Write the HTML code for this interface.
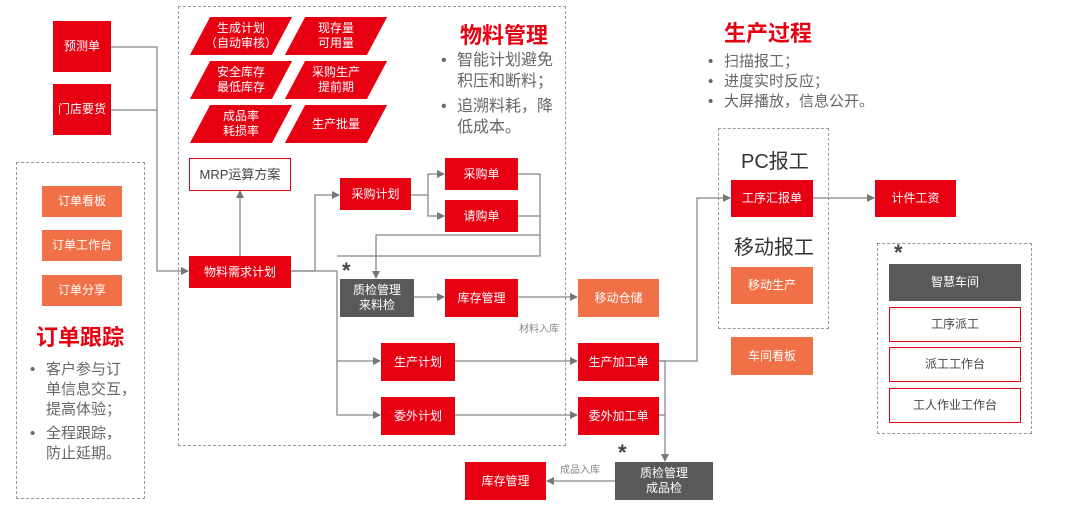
<!DOCTYPE html>
<html><head><meta charset="utf-8"><style>
body{margin:0;width:1080px;height:516px;background:#fff;position:relative;overflow:hidden;font-family:"Liberation Sans","Noto Sans CJK SC",sans-serif}
.b{position:absolute;display:flex;align-items:center;justify-content:center;text-align:center;font-size:12px;color:#fff;line-height:15px;box-sizing:border-box}
.r{background:#e60012}.o{background:#f07048}.g{background:#595959}.w{background:#fff;border:1.5px solid #e60012;color:#444}
.d{position:absolute;border:1px dashed #999;box-sizing:border-box}
.t{position:absolute;white-space:nowrap}
.p{position:absolute;transform:skewX(-28deg);background:#e60012}
.pt{position:absolute;display:flex;align-items:center;justify-content:center;text-align:center;color:#fff;font-size:12px;line-height:15px}
ul{margin:0;padding:0;list-style:none}
.bl{position:absolute;color:#666;font-size:15px;line-height:20px}
.bl li{position:relative;padding-left:16px}
.bl li:before{content:"•";position:absolute;left:0}
</style></head><body>
<div class="d" style="left:16px;top:162px;width:129px;height:337px"></div>
<div class="d" style="left:178px;top:6px;width:388px;height:440px"></div>
<div class="d" style="left:718px;top:128px;width:111px;height:201px"></div>
<div class="d" style="left:877px;top:243px;width:155px;height:191px"></div>

<svg width="1080" height="516" style="position:absolute;left:0;top:0">
<defs><marker id="a" markerWidth="8" markerHeight="8" refX="7" refY="4" orient="auto" markerUnits="userSpaceOnUse"><path d="M0,0 L8,4 L0,8z" fill="#777"/></marker></defs>
<g stroke="#888" stroke-width="1.3" fill="none">
<path d="M110,47 H157 V271 H188" marker-end="url(#a)"/>
<path d="M110,110 H157"/>
<path d="M240,256 V191" marker-end="url(#a)"/>
<path d="M290,271 H315 V195 H339" marker-end="url(#a)"/>
<path d="M290,271 H337 V415 H380" marker-end="url(#a)"/>
<path d="M337,361 H380" marker-end="url(#a)"/>
<path d="M410,195 H428 V174 H444" marker-end="url(#a)"/>
<path d="M428,195 V216 H444" marker-end="url(#a)"/>
<path d="M517,174 H540 V256 H337"/>
<path d="M517,216 H540"/>
<path d="M540,235 H376 V278" marker-end="url(#a)"/>
<path d="M413,297 H444" marker-end="url(#a)"/>
<path d="M517,297 H577" marker-end="url(#a)"/>
<path d="M455,361 H577" marker-end="url(#a)"/>
<path d="M455,415 H577" marker-end="url(#a)"/>
<path d="M659,361 H697 V198 H730" marker-end="url(#a)"/>
<path d="M659,361 H665 V461" marker-end="url(#a)"/>
<path d="M659,415 H665"/>
<path d="M615,481 H547" marker-end="url(#a)"/>
<path d="M812,198 H874" marker-end="url(#a)"/>
</g></svg>

<div class="b r" style="left:53px;top:21px;width:58px;height:51px">预测单</div>
<div class="b r" style="left:53px;top:84px;width:58px;height:51px">门店要货</div>
<div class="b o" style="left:42px;top:186px;width:80px;height:31px">订单看板</div>
<div class="b o" style="left:42px;top:230px;width:80px;height:31px">订单工作台</div>
<div class="b o" style="left:42px;top:275px;width:80px;height:31px">订单分享</div>
<div class="t" style="left:36px;top:320px;font-size:22px;font-weight:bold;color:#e60012">订单跟踪</div>
<ul class="bl" style="left:30px;top:360px;width:112px;white-space:nowrap"><li>客户参与订<br>单信息交互，<br>提高体验；</li><li style="margin-top:4px">全程跟踪，<br>防止延期。</li></ul>

<div class="p" style="left:200px;top:17px;width:82px;height:38px"></div><div class="pt" style="left:190px;top:17px;width:102px;height:38px">生成计划<br>（自动审核）</div>
<div class="p" style="left:295px;top:17px;width:82px;height:38px"></div><div class="pt" style="left:285px;top:17px;width:102px;height:38px">现存量<br>可用量</div>
<div class="p" style="left:200px;top:61px;width:82px;height:38px"></div><div class="pt" style="left:190px;top:61px;width:102px;height:38px">安全库存<br>最低库存</div>
<div class="p" style="left:295px;top:61px;width:82px;height:38px"></div><div class="pt" style="left:285px;top:61px;width:102px;height:38px">采购生产<br>提前期</div>
<div class="p" style="left:200px;top:105px;width:82px;height:38px"></div><div class="pt" style="left:190px;top:105px;width:102px;height:38px">成品率<br>耗损率</div>
<div class="p" style="left:295px;top:105px;width:82px;height:38px"></div><div class="pt" style="left:285px;top:105px;width:102px;height:38px">生产批量</div>
<div class="t" style="left:460px;top:18px;font-size:22px;font-weight:bold;color:#e60012">物料管理</div>
<ul class="bl" style="left:441px;top:50px;width:125px;font-size:16px;line-height:21px"><li>智能计划避免积压和断料；</li><li style="margin-top:4px">追溯料耗，降低成本。</li></ul>

<div class="b w" style="left:189px;top:158px;width:102px;height:33px;font-size:13px">MRP运算方案</div>
<div class="b r" style="left:189px;top:256px;width:102px;height:32px">物料需求计划</div>
<div class="b r" style="left:340px;top:178px;width:71px;height:32px">采购计划</div>
<div class="b r" style="left:445px;top:158px;width:73px;height:32px">采购单</div>
<div class="b r" style="left:445px;top:200px;width:73px;height:32px">请购单</div>
<div class="t" style="left:342px;top:258px;font-size:22px;font-weight:bold;color:#444">*</div>
<div class="b g" style="left:340px;top:279px;width:74px;height:38px">质检管理<br>来料检</div>
<div class="b r" style="left:445px;top:279px;width:73px;height:38px">库存管理</div>
<div class="b o" style="left:578px;top:279px;width:81px;height:38px">移动仓储</div>
<div class="t" style="left:519px;top:320px;font-size:10px;color:#888">材料入库</div>
<div class="b r" style="left:381px;top:343px;width:74px;height:38px">生产计划</div>
<div class="b r" style="left:578px;top:343px;width:81px;height:38px">生产加工单</div>
<div class="b r" style="left:381px;top:397px;width:74px;height:38px">委外计划</div>
<div class="b r" style="left:578px;top:397px;width:81px;height:38px">委外加工单</div>
<div class="t" style="left:618px;top:440px;font-size:22px;font-weight:bold;color:#444">*</div>
<div class="b g" style="left:615px;top:462px;width:98px;height:38px">质检管理<br>成品检</div>
<div class="b r" style="left:465px;top:462px;width:81px;height:38px">库存管理</div>
<div class="t" style="left:560px;top:461px;font-size:10px;color:#888">成品入库</div>

<div class="t" style="left:724px;top:16px;font-size:22px;font-weight:bold;color:#e60012">生产过程</div>
<ul class="bl" style="left:708px;top:52px;font-size:15px;line-height:20px"><li>扫描报工；</li><li>进度实时反应；</li><li>大屏播放，信息公开。</li></ul>
<div class="t" style="left:741px;top:145px;font-size:20px;color:#333">PC报工</div>
<div class="b r" style="left:731px;top:180px;width:82px;height:37px">工序汇报单</div>
<div class="t" style="left:734px;top:231px;font-size:20px;color:#333">移动报工</div>
<div class="b o" style="left:731px;top:267px;width:82px;height:37px">移动生产</div>
<div class="b o" style="left:731px;top:337px;width:82px;height:38px">车间看板</div>
<div class="b r" style="left:875px;top:180px;width:81px;height:37px">计件工资</div>
<div class="t" style="left:894px;top:240px;font-size:22px;font-weight:bold;color:#444">*</div>
<div class="b g" style="left:889px;top:264px;width:132px;height:37px">智慧车间</div>
<div class="b w" style="left:889px;top:307px;width:132px;height:35px">工序派工</div>
<div class="b w" style="left:889px;top:347px;width:132px;height:35px">派工工作台</div>
<div class="b w" style="left:889px;top:388px;width:132px;height:35px">工人作业工作台</div>
</body></html>
